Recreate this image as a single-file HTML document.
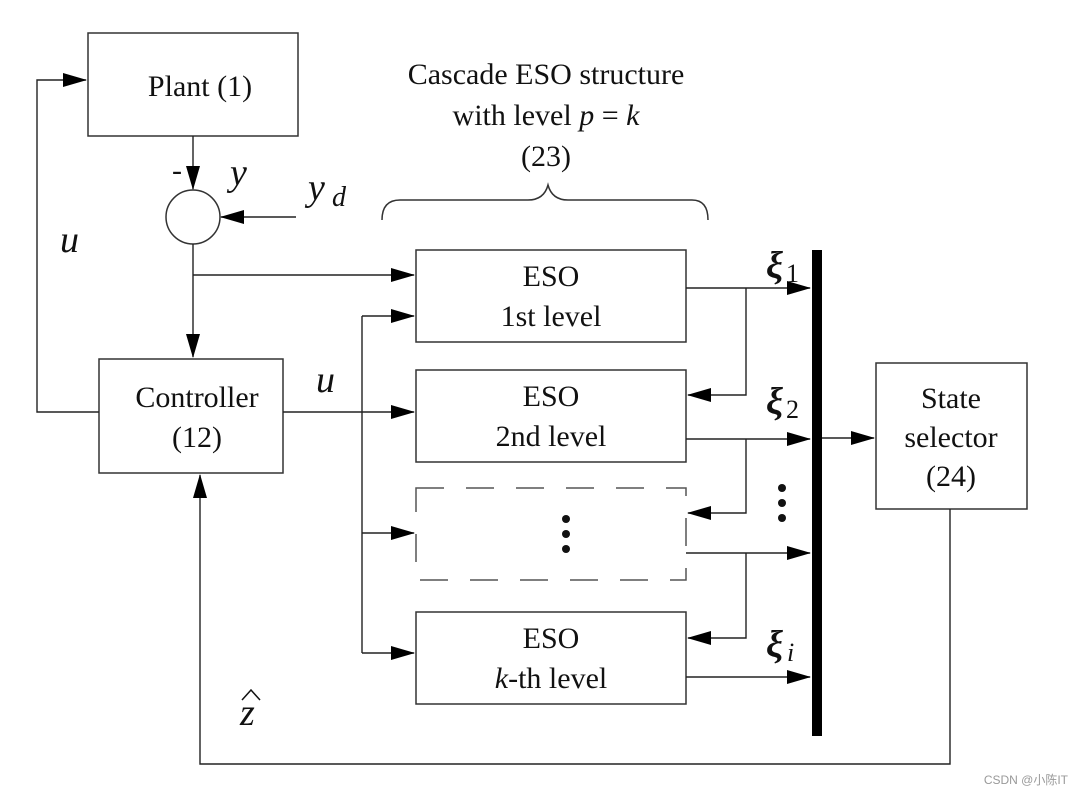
<!DOCTYPE html>
<html><head><style>body{margin:0;background:#fff}svg{display:block}text{font-family:"Liberation Serif",serif;fill:#111}</style></head><body>
<svg width="1078" height="794" viewBox="0 0 1078 794" xmlns="http://www.w3.org/2000/svg">
<defs><marker id="a" markerWidth="24" markerHeight="14" refX="23" refY="7" orient="auto" markerUnits="userSpaceOnUse"><path d="M0,0 L24,7 L0,14 Z" fill="#000"/></marker></defs>
<g fill="none" stroke="#333" stroke-width="1.5">
<rect x="88" y="33" width="210" height="103"/>
<circle cx="193" cy="217" r="27"/>
<rect x="99" y="359" width="184" height="114"/>
<rect x="416" y="250" width="270" height="92"/>
<rect x="416" y="370" width="270" height="92"/>
<rect x="416" y="488" width="270" height="92" stroke-dasharray="28,22" stroke="#555"/>
<rect x="416" y="612" width="270" height="92"/>
<rect x="876" y="363" width="151" height="146"/>
<path d="M382,220 Q382,200 400,200 L528,200 Q544,200 548,185 Q552,200 568,200 L692,200 Q708,200 708,220"/>
</g>
<rect x="812" y="250" width="10" height="486" fill="#000"/>
<g fill="none" stroke="#222" stroke-width="1.4">
<path d="M193,136 V189" marker-end="url(#a)"/>
<path d="M296,217 H221" marker-end="url(#a)"/>
<path d="M193,244 V357" marker-end="url(#a)"/>
<path d="M193,275 H414" marker-end="url(#a)"/>
<path d="M283,412 H414" marker-end="url(#a)"/>
<path d="M99,412 H37 V80 H86" marker-end="url(#a)"/>
<path d="M362,316 H414" marker-end="url(#a)"/>
<path d="M362,316 V653"/>
<path d="M362,533 H414" marker-end="url(#a)"/>
<path d="M362,653 H414" marker-end="url(#a)"/>
<path d="M686,288 H810" marker-end="url(#a)"/>
<path d="M686,439 H810" marker-end="url(#a)"/>
<path d="M686,553 H810" marker-end="url(#a)"/>
<path d="M686,677 H810" marker-end="url(#a)"/>
<path d="M746,288 V395 H688" marker-end="url(#a)"/>
<path d="M746,439 V513 H688" marker-end="url(#a)"/>
<path d="M746,553 V638 H688" marker-end="url(#a)"/>
<path d="M822,438 H874" marker-end="url(#a)"/>
<path d="M950,509 V764 H200 V475" marker-end="url(#a)"/>
</g>
<g font-size="30" text-anchor="middle">
<text x="200" y="96">Plant (1)</text>
<text x="197" y="407">Controller</text>
<text x="197" y="447">(12)</text>
<text x="551" y="286">ESO</text><text x="551" y="326">1st level</text>
<text x="551" y="406">ESO</text><text x="551" y="446">2nd level</text>
<text x="551" y="648">ESO</text><text x="551" y="688"><tspan font-style="italic">k</tspan>-th level</text>
<text x="951" y="408">State</text><text x="951" y="447">selector</text><text x="951" y="486">(24)</text>
<text x="546" y="84">Cascade ESO structure</text>
<text x="546" y="125">with level <tspan font-style="italic">p</tspan> = <tspan font-style="italic">k</tspan></text>
<text x="546" y="166">(23)</text>
</g>
<g font-size="38" font-style="italic">
<text x="230" y="185">y</text>
<text x="308" y="200">y</text><text x="332" y="206" font-size="28">d</text>
<text x="60" y="252">u</text>
<text x="316" y="392">u</text>
<text x="240" y="725">z</text>
<text x="766" y="278" font-weight="bold">ξ</text><text x="786" y="282" font-size="26" font-style="normal">1</text>
<text x="766" y="414" font-weight="bold">ξ</text><text x="786" y="418" font-size="26" font-style="normal">2</text>
<text x="766" y="657" font-weight="bold">ξ</text><text x="787" y="661" font-size="26">i</text>
</g>
<path d="M242,700 L251,690 L260,700" fill="none" stroke="#111" stroke-width="1.5"/>
<text x="172" y="180" font-size="30">-</text>
<g fill="#111"><circle cx="566" cy="519" r="4"/><circle cx="566" cy="534" r="4"/><circle cx="566" cy="549" r="4"/>
<circle cx="782" cy="488" r="4"/><circle cx="782" cy="503" r="4"/><circle cx="782" cy="518" r="4"/></g>
<text x="1068" y="784" font-size="12" text-anchor="end" style="font-family:'Liberation Sans','Noto Sans CJK SC',sans-serif;fill:#999">CSDN @小陈IT</text>
</svg></body></html>
